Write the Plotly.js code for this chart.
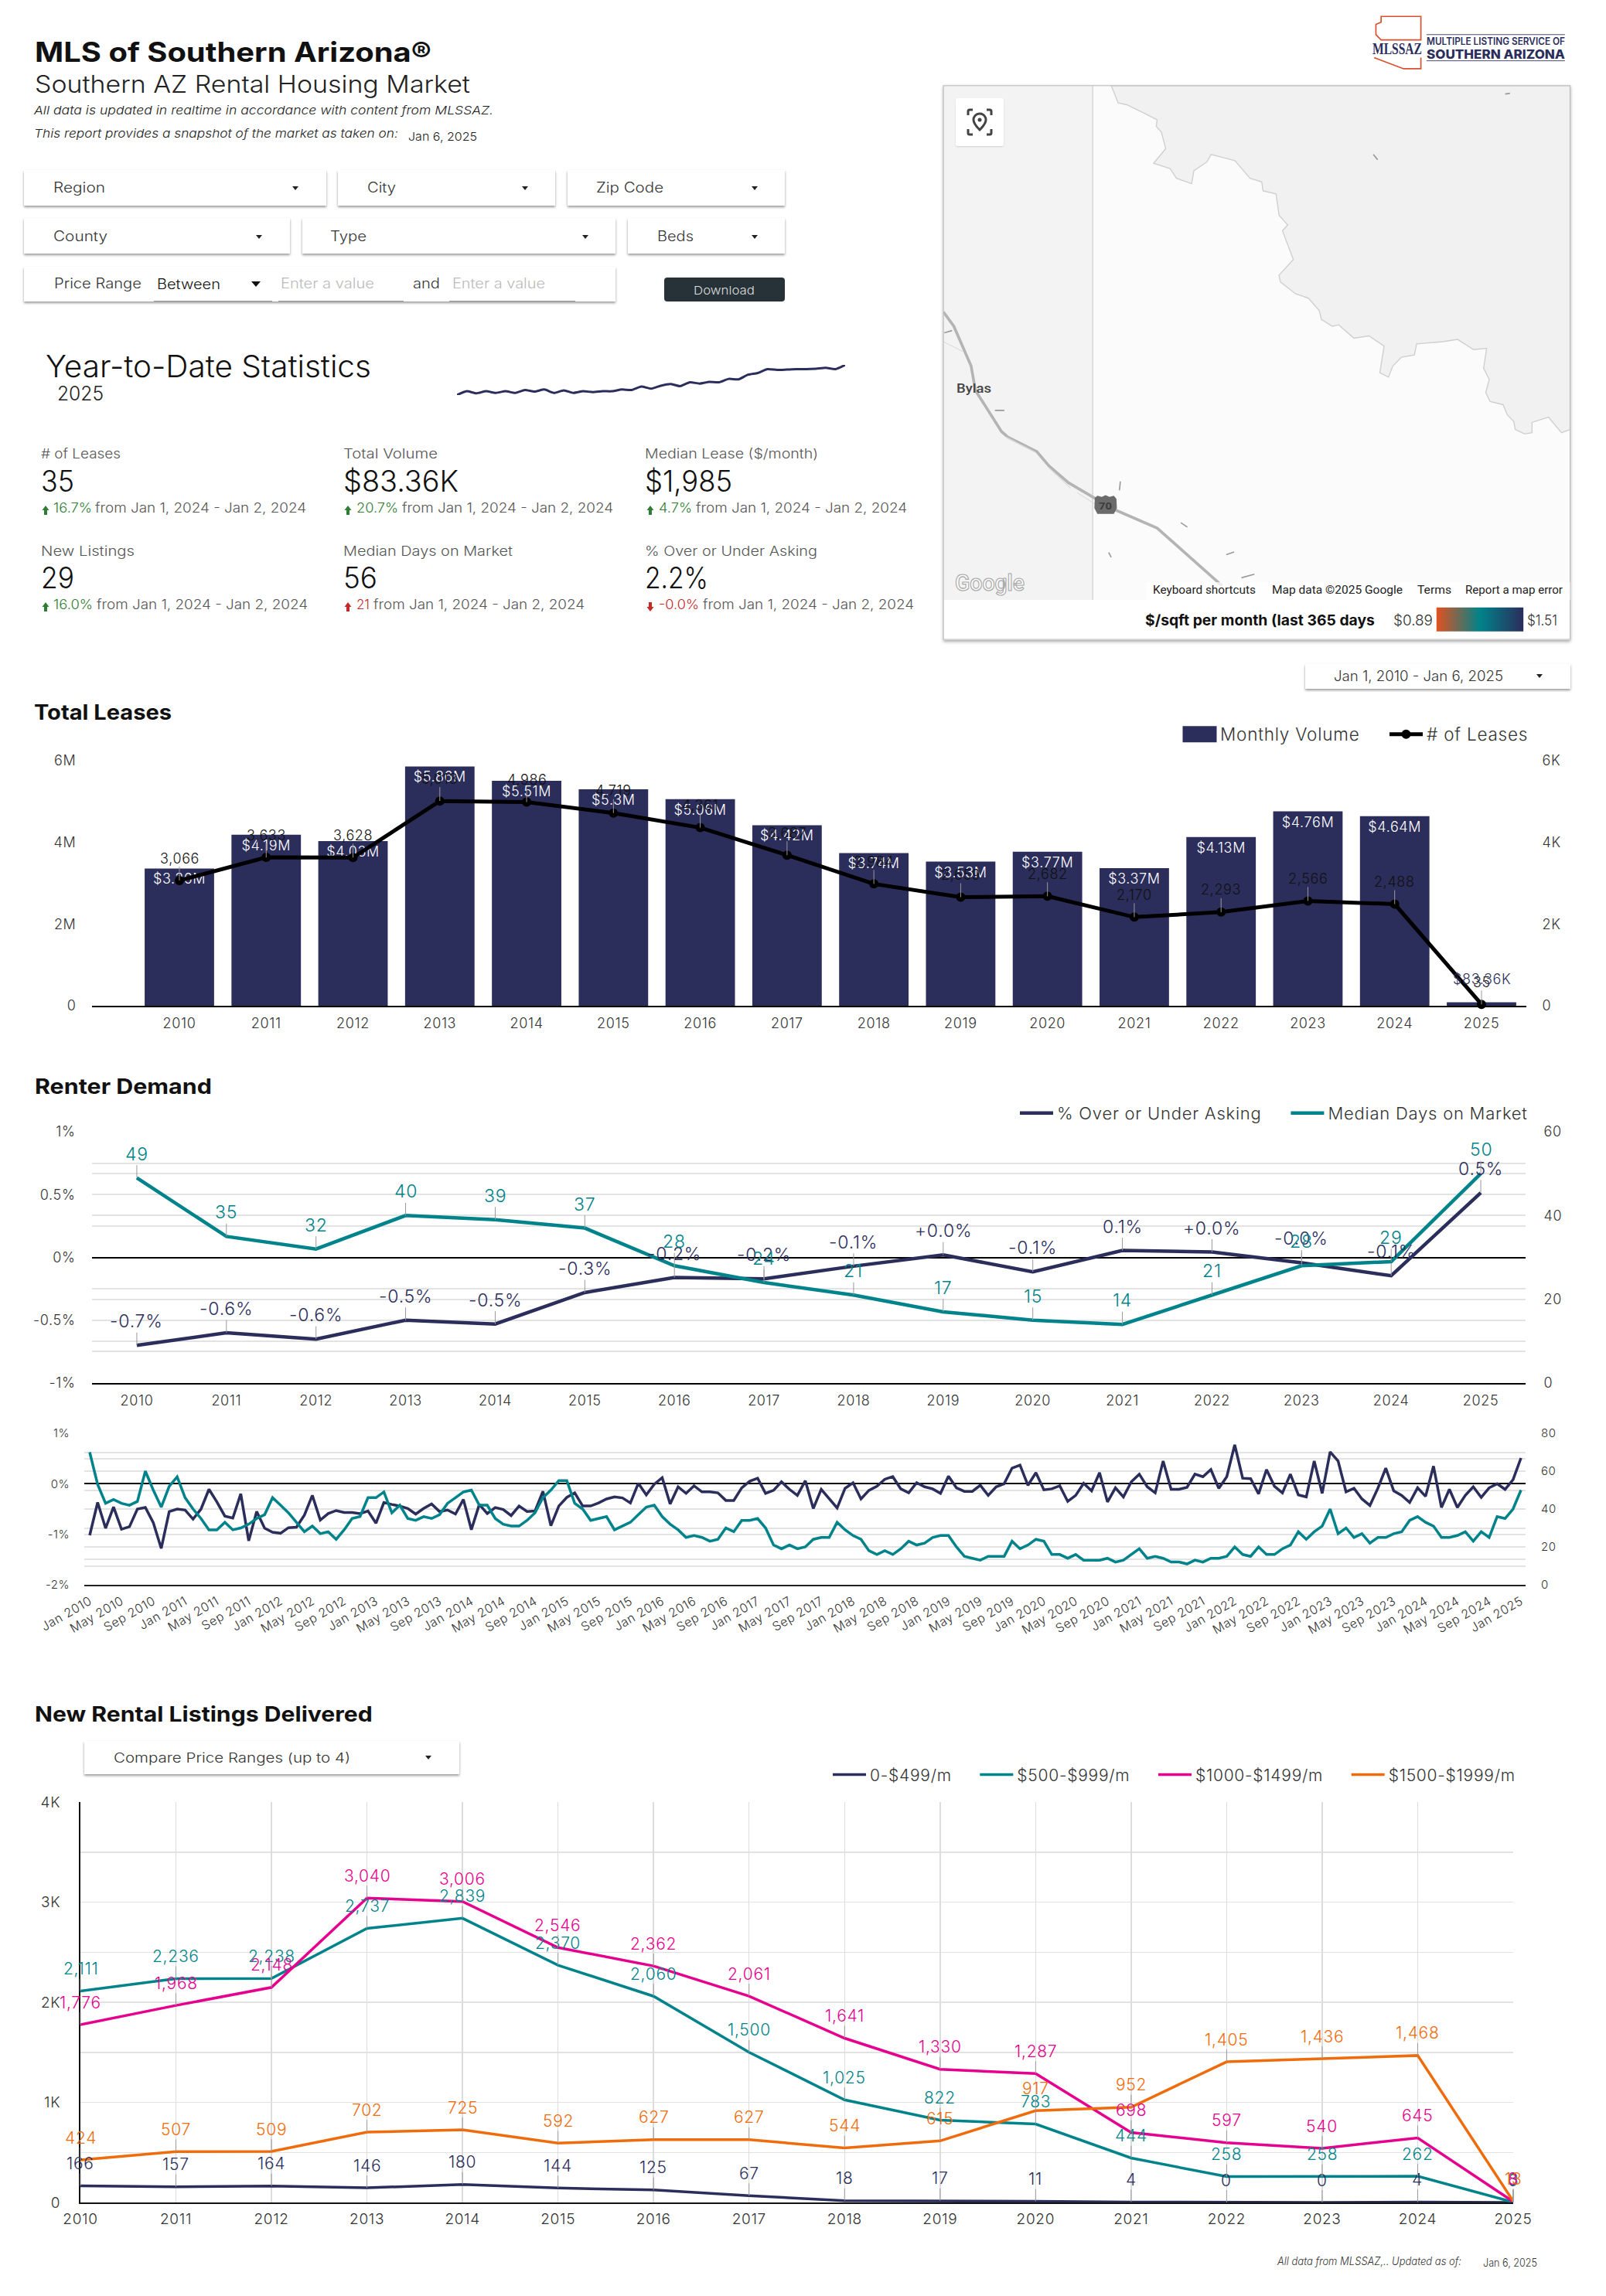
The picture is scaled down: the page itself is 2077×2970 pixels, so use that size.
<!DOCTYPE html>
<html><head><meta charset="utf-8">
<script src="https://cdn.plot.ly/plotly-3.0.1.min.js"></script>
<style>
html,body{margin:0;padding:0;background:#fff;}
#page{position:relative;width:2077px;height:2970px;overflow:hidden;font-family:Inter,sans-serif;background:#fff;}
.t{position:absolute;white-space:nowrap;transform-origin:left center;line-height:1;}
.b{position:absolute;background:#fff;box-shadow:0 2px 3px rgba(0,0,0,.4);}
.c{position:absolute;width:0;height:0;border-left:4px solid transparent;border-right:4px solid transparent;border-top:5px solid #222;}
.u{position:absolute;height:1px;background:#999;}
.p{position:absolute;}
svg text{letter-spacing:.035em;}
</style></head><body><div id="page"></div>
<script>
/* ---------- data ---------- */
const years=['2010','2011','2012','2013','2014','2015','2016','2017','2018','2019','2020','2021','2022','2023','2024','2025'];
const monthlyVolume=[3.36e6,4.19e6,4.03e6,5.86e6,5.51e6,5.3e6,5.06e6,4.42e6,3.74e6,3.53e6,3.77e6,3.37e6,4.13e6,4.76e6,4.64e6,83360];
const volumeLabels=['$3.36M','$4.19M','$4.03M','$5.86M','$5.51M','$5.3M','$5.06M','$4.42M','$3.74M','$3.53M','$3.77M','$3.37M','$4.13M','$4.76M','$4.64M',''];
const leaseCounts=[3066,3633,3628,5013,4986,4719,4361,3687,2984,2659,2682,2170,2293,2566,2488,35];
const overAsking=[-0.70,-0.60,-0.65,-0.50,-0.53,-0.28,-0.16,-0.17,-0.07,0.02,-0.115,0.055,0.043,-0.043,-0.146,0.515];
const overLabels=['-0.7%','-0.6%','-0.6%','-0.5%','-0.5%','-0.3%','-0.2%','-0.2%','-0.1%','+0.0%','-0.1%','0.1%','+0.0%','-0.0%','-0.1%','0.5%'];
const daysOnMarket=[49,35,32,40,39,37,28,24,21,17,15,14,21,28,29,50];
const monthlyOver=[-1.02,-.37,-.88,-.46,-.9,-.85,-.5,-.47,-.77,-1.28,-.55,-.5,-.52,-.7,-.5,-.11,-.36,-.64,-.68,-.2,-1.13,-.55,-.88,-.96,-.98,-.87,-.86,-.62,-.23,-.72,-.59,-.53,-.57,-.57,-.59,-.54,-.78,-.37,-.41,-.44,-.49,-.6,-.49,-.4,-.55,-.52,-.6,-.31,-.91,-.41,-.59,-.47,-.51,-.63,-.44,-.55,-.54,-.15,-.83,-.44,-.27,-.18,-.44,-.44,-.38,-.3,-.26,-.28,-.38,.01,-.22,-.01,.12,-.4,-.06,-.19,-.04,-.16,-.16,-.18,-.33,-.33,-.08,.05,.11,-.19,-.13,.04,-.11,-.23,.06,-.49,-.11,-.3,-.48,-.09,.02,-.3,-.13,-.05,.09,.14,-.1,-.18,.02,-.06,-.1,-.19,.15,-.08,-.15,-.15,-.03,-.23,-.06,0,.31,.37,-.03,.22,-.12,-.1,-.04,-.35,-.23,.01,-.14,.22,-.36,-.08,-.26,.04,.19,-.06,-.18,.45,-.11,-.11,-.07,.19,.14,.28,-.09,.14,.77,.11,.1,-.2,.28,-.05,-.18,.19,-.22,-.26,.45,-.19,.63,.45,-.16,-.09,-.3,-.43,-.09,.31,-.14,-.23,-.37,-.08,-.25,.35,-.47,-.11,-.47,-.23,-.06,-.27,-.08,0,-.11,.08,.51];
const monthlyDays=[70,53,43,45,43,42,44,60,50,41,52,57,46,40,35,29,29,33,29,30,32,35,37,46,42,38,33,28,31,27,28,24,29,35,36,46,46,49,38,42,35,34,36,35,37,43,46,49,50,42,42,35,32,31,31,34,38,46,50,55,55,43,40,34,35,36,29,31,33,37,41,42,36,32,29,25,26,25,23,24,30,28,34,34,35,30,21,19,21,19,20,24,25,25,33,29,26,24,18,16,18,16,19,23,21,22,25,26,26,20,15,14,13,15,15,15,23,19,21,24,23,16,16,14,16,13,13,13,14,12,13,16,19,14,15,14,12,12,11,13,12,14,14,15,20,16,15,20,16,16,19,21,28,24,28,31,40,27,30,25,27,22,25,25,27,28,34,36,33,31,25,25,26,28,23,28,25,36,35,40,50];
const monthNames=['Jan','Feb','Mar','Apr','May','Jun','Jul','Aug','Sep','Oct','Nov','Dec'];
const months=monthlyOver.map((_,i)=>monthNames[i%12]+' '+(2010+Math.floor(i/12)));
const listingYears=[2010,2011,2012,2013,2014,2015,2016,2017,2018,2019,2020,2021,2022,2023,2024,2025];
const listings0to499=[166,157,164,146,180,144,125,67,18,17,11,4,0,0,4,0];
const listings500to999=[2111,2236,2238,2737,2839,2370,2060,1500,1025,822,783,444,258,258,262,3];
const listings1000to1499=[1776,1968,2148,3040,3006,2546,2362,2061,1641,1330,1287,698,597,540,645,8];
const listings1500to1999=[424,507,509,702,725,592,627,627,544,615,917,952,1405,1436,1468,13];
const sparkValues=[0,9,4,9,5,9,5,12,8,13,5,11,5,9,7,9,9,13,12,20,15,22,26,21,30,27,31,30,38,37,48,52,61,59,60,61,61,62,64,61,71];

const NAVY='#2b2d5b',TEAL='#00838a',PINK='#e6008e',ORANGE='#ef6c0c',GRID='#e3e3e3',FONT='Inter, sans-serif',TXT='#333';
const page=document.getElementById('page');

/* ---------- static page text and controls ---------- */
const fits=[];
function T(s,x0,x1,cy,size,o){o=o||{};const e=document.createElement('div');e.className='t';e.textContent=s;
 e.style.cssText=`left:${x0}px;top:${cy-size/2}px;font-size:${size}px;color:${o.color||'#333'};font-weight:${o.weight||400};font-style:${o.italic?'italic':'normal'};font-family:${o.family||FONT};${o.css||''}`;
 (o.parent||page).appendChild(e);fits.push([e,x1-x0]);return e;}
function B(x0,y0,x1,y1,bg){const e=document.createElement('div');e.className='b';e.style.cssText=`left:${x0}px;top:${y0}px;width:${x1-x0}px;height:${y1-y0}px;`+(bg?`background:${bg};`:'');page.appendChild(e);return e;}
function C(x,cy,big){const e=document.createElement('div');e.className='c';e.style.left=(x-4)+'px';e.style.top=(cy-2)+'px';if(big){e.style.borderLeft=e.style.borderRight='6px solid transparent';e.style.borderTop='7px solid #111';e.style.left=(x-6)+'px';}page.appendChild(e);}
function U(x0,x1,y){const e=document.createElement('div');e.className='u';e.style.cssText=`left:${x0}px;width:${x1-x0}px;top:${y}px;`;page.appendChild(e);}

T('MLS of Southern Arizona®',45,558,67,35,{weight:700,color:'#111'});
T('Southern AZ Rental Housing Market',45,608,108,31,{color:'#222',weight:300});
T('All data is updated in realtime in accordance with content from MLSSAZ.',44,638,142,15,{italic:true,color:'#222',weight:300});
T('This report provides a snapshot of the market as taken on:',44,515,172,15,{italic:true,color:'#222',weight:300});
T('Jan 6, 2025',528,617,176,15,{color:'#222',weight:300});

[[31,422,220,266],[437,718,220,266],[734,1015,220,266],[31,375,282,328],[391,796,282,328],[812,1015,282,328],[31,796,345,390]].forEach(r=>B(r[0],r[2],r[1],r[3]));
[['Region',69,136,243,382],['City',475,512,243,679],['Zip Code',771,858,243,976],['County',69,139,306,335],['Type',427,474,306,757],['Beds',850,897,306,976]].forEach(d=>{T(d[0],d[1],d[2],d[3],18,{weight:300});C(d[4],d[3]);});
T('Price Range',70,183,367,18,{weight:300});T('Between',203,285,368,18,{color:'#111',weight:300});C(331,366,true);
T('Enter a value',363,484,367,18,{color:'#bbb',weight:300});T('and',534,569,367,18,{weight:300});T('Enter a value',585,705,367,18,{color:'#bbb',weight:300});
U(199,352,389);U(360,522,389);U(581,744,389);
const dl=B(859,359,1015,390,'#263238');dl.style.borderRadius='4px';dl.style.boxShadow='none';
T('Download',897,976,375.5,15,{color:'#ddd',weight:300});

T('Year-to-Date Statistics',59,480,473,39,{weight:300,color:'#111'});
T('2025',74,134,509,25,{color:'#222',weight:300});

const GREEN='#2e7d32',RED='#c62828';
function arrow(x,cy,col,down){const e=document.createElement('div');e.className='p';
 e.innerHTML=`<svg width="10" height="14" viewBox="0 0 10 14"><path d="${down?'M3 1H7V7H9.5L5 13L.5 7H3Z':'M5 1L9.5 7H7V13H3V7H.5Z'}" fill="${col}"/></svg>`;
 e.style.left=(x-5)+'px';e.style.top=(cy-6)+'px';page.appendChild(e);}
const RANGE='from Jan 1, 2024 - Jan 2, 2024';
[
 ['# of Leases',53,156,587,'35',96,622,59,'16.7%',69,119,123,396,657,GREEN,false],
 ['Total Volume',444,566,587,'$83.36K',593,622,450,'20.7%',461,515,520,793,657,GREEN,false],
 ['Median Lease ($/month)',834,1058,587,'$1,985',947,622,841,'4.7%',852,895,900,1173,657,GREEN,false],
 ['New Listings',53,174,713,'29',96,747,59,'16.0%',69,120,125,398,782,GREEN,false],
 ['Median Days on Market',444,663,713,'56',488,747,450,'21',461,478,483,756,782,RED,false],
 ['% Over or Under Asking',834,1057,713,'2.2%',916,747,841,'-0.0%',852,904,909,1182,782,RED,true]
].forEach(k=>{
 T(k[0],k[1],k[2],k[3],17,{color:'#555',weight:300});
 T(k[4],k[1],k[5],k[6],38,{color:'#111',weight:300});
 arrow(k[7],k[13],k[14],k[15]);
 T(k[8],k[9],k[10],k[13],17,{color:k[14],weight:300});
 T(RANGE,k[11],k[12],k[13],17,{color:'#555',weight:300});
});

/* ---------- map panel and logo (base map, not data) ---------- */
const ov=document.createElement('div');ov.className='p';ov.style.cssText='left:1200px;top:0;width:877px;height:900px;';
ov.innerHTML=`<svg width="877" height="900" viewBox="0 0 1568 1568" preserveAspectRatio="none" style="position:absolute;left:0;top:0">
<defs><clipPath id="mc"><rect x="36" y="193" width="1449" height="1159"/></clipPath></defs>
<rect x="36" y="193" width="1449" height="1248" fill="#fff"/>
<g clip-path="url(#mc)">
<rect x="36" y="193" width="1449" height="1159" fill="#fbfbfb"/>
<rect x="36" y="193" width="345" height="1159" fill="#f3f3f3"/>
<path d="M424,193 440,232 460,236 500,255 530,270 528,285 540,298 550,335 522,368 560,380 575,402 610,414 615,385 645,365 655,348 690,357 710,362 745,402 772,410 775,430 805,437 812,485 832,507 820,520 845,585 812,620 815,635 850,662 880,672 905,700 910,720 935,735 950,732 985,762 1020,757 1055,780 1045,840 1065,850 1075,825 1095,805 1125,800 1130,775 1190,770 1225,765 1262,788 1292,785 1285,830 1298,855 1290,885 1300,905 1330,912 1340,935 1355,950 1358,968 1380,978 1397,975 1397,952 1435,940 1465,975 1485,968 1485,193Z" fill="#f1f1f1" stroke="#cfcfcf" stroke-width="2.5"/>
<line x1="381" y1="193" x2="381" y2="1352" stroke="#d5d5d5" stroke-width="2.5"/>
<path d="M36,703 60,735 100,825 110,880 170,972 185,985 252,1018 280,1050 325,1088 385,1122 435,1150 530,1190 680,1320" fill="none" stroke="#b4b4b4" stroke-width="6.5"/>
<path d="M36,770 80,792M180,985 250,1020M280,1055 330,1100M345,1110 385,1135" fill="none" stroke="#dcdcdc" stroke-width="2"/>
<path d="M38,750 56,745M155,925 177,925M445,1085 443,1105M585,1178 600,1188M690,1250 708,1244M725,1302 755,1294M1335,212 1346,210M1030,348 1040,360M418,1245 424,1256" fill="none" stroke="#9a9a9a" stroke-width="3"/>
<path d="M386,1122 392,1117 402,1120 411,1116 420,1120 430,1117 436,1124 437,1145 430,1158 392,1158 385,1145Z" fill="#6b6b6b"/>
</g>
<rect x="36" y="193" width="1449" height="1248" fill="none" stroke="#bdbdbd" stroke-width="2"/>
<rect x="505" y="1312" width="980" height="40" fill="#fff" opacity=".75"/>
<defs><linearGradient id="gr" x1="0" x2="1" y1="0" y2="0"><stop offset="0" stop-color="#e2511f"/><stop offset=".5" stop-color="#00838a"/><stop offset="1" stop-color="#2b2d5b"/></linearGradient></defs>
<rect x="1176" y="1369" width="201" height="54" fill="url(#gr)"/>
<path d="M1048,37H1140V90H1048L1036,78V55L1048,50Z" fill="none" stroke="#d9502e" stroke-width="3"/>
<path d="M1032,130 1100,155H1140V130" fill="none" stroke="#d9502e" stroke-width="3"/>
<path d="M1153,78H1473M1153,137H1473" stroke="#2b2d5b" stroke-width="1.5"/>
</svg>`;
page.appendChild(ov);
const mapShadow=document.createElement('div');mapShadow.className='p';mapShadow.style.cssText='left:1220px;top:110px;width:811px;height:718px;box-shadow:0 2px 4px rgba(0,0,0,.35);z-index:0;';
page.insertBefore(mapShadow,ov);
const loc=document.createElement('div');loc.className='p';loc.style.cssText='left:1236px;top:127px;width:62px;height:62px;background:#fff;border-radius:2px;box-shadow:0 1px 2px rgba(0,0,0,.15);';
loc.innerHTML=`<svg width="62" height="62" viewBox="0 0 62 62"><path d="M16 22V17Q16 15 18 15H22M40 15H44Q46 15 46 17V22M46 40V45Q46 47 44 47H40M22 47H18Q16 47 16 45V40" fill="none" stroke="#444" stroke-width="3"/><path d="M31 20C26 20 23 24 23 28C23 33 31 41 31 41C31 41 39 33 39 28C39 24 36 20 31 20Z" fill="none" stroke="#444" stroke-width="3"/><circle cx="31" cy="28" r="2.5" fill="#444"/></svg>`;
page.appendChild(loc);
T('Bylas',1237,1282,503,16,{color:'#444',family:'Roboto',weight:500});
T('70',1421,1438,654,13,{color:'#3c3c3c',family:'Roboto',weight:700});
T('Google',1235,1325,754,30,{color:'#fff',family:'Roboto',weight:500,css:'-webkit-text-stroke:1.2px #a8a8a8;'});
T('Keyboard shortcuts',1491,1624,763,14,{color:'#222',family:'Roboto'});
T('Map data ©2025 Google',1645,1814,763,14,{color:'#222',family:'Roboto'});
T('Terms',1833,1877,763,14,{color:'#222',family:'Roboto'});
T('Report a map error',1895,2021,763,14,{color:'#222',family:'Roboto'});
T('$/sqft per month (last 365 days',1481,1778,802,19,{weight:700,color:'#111'});
T('$0.89',1802,1853,802,19,{color:'#333',weight:300});
T('$1.51',1975,2014,802,19,{color:'#333',weight:300});
B(1688,859,2031,891);T('Jan 1, 2010 - Jan 6, 2025',1725,1944,875,18,{color:'#333',weight:300});C(1991,874);
T('MLSSAZ',1775,1839,63,22,{weight:700,color:NAVY,family:'Liberation Sans Narrow'});
T('MULTIPLE LISTING SERVICE OF',1845,2024,54,12.5,{weight:600,color:NAVY});
T('SOUTHERN ARIZONA',1845,2024,69.5,16,{weight:800,color:NAVY});

T('Total Leases',44,222,921,27,{weight:700,color:'#111'});
T('Renter Demand',45,274,1405,27,{weight:700,color:'#111'});
T('New Rental Listings Delivered',45,482,2217,27,{weight:700,color:'#111'});
B(109,2252,594,2295);T('Compare Price Ranges (up to 4)',147,453,2274,17,{color:'#333',weight:300});C(554,2273);
T('All data from MLSSAZ,.. Updated as of:',1652,1890,2925,14,{italic:true,color:'#333',weight:300});
T('Jan 6, 2025',1918,1988,2927,14,{color:'#333',weight:300});

function fitAll(){fits.forEach(([e,w])=>{const m=e.getBoundingClientRect().width;e.style.transform='scaleX('+(w/m).toFixed(3)+')';});}
fitAll();

/* ---------- plotly helpers ---------- */
function frame(id,x0,y0,x1,y1,topPad,botPad){const d=document.createElement('div');d.id=id;d.className='p';
 d.style.cssText=`left:0;top:${y0-topPad}px;width:2077px;height:${y1-y0+topPad+botPad}px;`;page.appendChild(d);
 return {d,margin:{l:x0,r:2077-x1,t:topPad,b:botPad,pad:0,autoexpand:false},w:2077,h:y1-y0+topPad+botPad,y0,y1,pw:x1-x0};}
function notes(xs,ys,txt,xref,yref,color,ay,size){return xs.map((x,i)=>({x,y:ys[i],xref,yref,text:txt[i],showarrow:true,arrowhead:0,arrowwidth:1,arrowcolor:'#9a9a9a',standoff:0,ax:0,ay,borderpad:0,font:{family:FONT,size,color,weight:300}}));}
const fmt=v=>v.toLocaleString('en-US');
const tickFont=s=>({family:FONT,size:s,color:TXT,weight:300});
const blank='rgba(0,0,0,0)';
const cfg={staticPlot:true,displayModeBar:false};
const gap=n=>'\u00A0'.repeat(n);
function legendAt(f,cy,size){return {orientation:'h',x:1+8/f.pw,xanchor:'right',y:(f.y1-cy)/(f.y1-f.y0),yanchor:'middle',font:{family:FONT,size,color:TXT,weight:300},itemwidth:43,bgcolor:blank,traceorder:'normal'};}

/* sparkline */
(function(){const f=frame('spark',591,471.5,1093,510,3,3);
Plotly.newPlot(f.d,[{y:sparkValues,mode:'lines',line:{color:NAVY,width:3,shape:'spline',smoothing:.6},cliponaxis:false}],
{width:f.w,height:f.h,margin:f.margin,showlegend:false,paper_bgcolor:blank,plot_bgcolor:blank,xaxis:{visible:false,range:[0,sparkValues.length-1]},yaxis:{visible:false,range:[0,71]}},cfg);})();

/* total leases */
(function(){const f=frame('leases',119,984,1974,1301.3,50,45);
const xn=years.map(Number);
const ann=notes(xn,leaseCounts,leaseCounts.map(fmt),'x','y2','#111',-29,18);
ann.push({x:2025,y:monthlyVolume[15],xref:'x',yref:'y',text:'$83.36K',showarrow:false,yshift:30,font:{family:FONT,size:18,color:NAVY,weight:300}});
Plotly.newPlot(f.d,[
{type:'bar',name:'Monthly Volume'+gap(4),x:xn,y:monthlyVolume,width:.8,marker:{color:NAVY},text:volumeLabels,textposition:'inside',insidetextanchor:'end',textangle:0,constraintext:'none',textfont:{family:FONT,size:18,color:'#fff',weight:300},hoverinfo:'skip',cliponaxis:false},
{type:'scatter',name:'# of Leases',x:xn,y:leaseCounts,yaxis:'y2',mode:'lines+markers',line:{color:'#000',width:5},marker:{color:'#000',size:12},cliponaxis:false}],
{width:f.w,height:f.h,margin:f.margin,paper_bgcolor:blank,plot_bgcolor:blank,barmode:'overlay',legend:legendAt(f,950,22.5),annotations:ann,
xaxis:{range:[2010-(232-119)/112.27,2025+(1974-1916)/112.27],tickmode:'array',tickvals:xn,ticktext:years,ticks:'outside',ticklen:5,tickcolor:blank,tickfont:tickFont(18),showgrid:false,zeroline:false,showline:true,linecolor:'#000',linewidth:2},
yaxis:{range:[0,6e6],tickmode:'array',tickvals:[0,2e6,4e6,6e6],ticktext:['0','2M','4M','6M'],ticks:'outside',ticklen:16,tickcolor:blank,tickfont:tickFont(18),showgrid:false,zeroline:false},
yaxis2:{overlaying:'y',side:'right',range:[0,6000],tickmode:'array',tickvals:[0,2000,4000,6000],ticktext:['0','2K','4K','6K'],ticks:'outside',ticklen:16,tickcolor:blank,tickfont:tickFont(18),showgrid:false,zeroline:false}},cfg).then(()=>{
 document.querySelectorAll('#leases .legend path').forEach(p=>{if((p.getAttribute('d')||'').startsWith('M6,6H-6'))p.setAttribute('d','M22,10.5H-22V-10.5H22Z');});
});
})();

/* renter demand yearly */
(function(){const f=frame('renterY',119,1464,1973,1788.7,45,45);
const idx=years.map((_,i)=>i);
const ann=notes(idx,overAsking,overLabels,'x','y',NAVY,-31,23).concat(notes(idx,daysOnMarket,daysOnMarket.map(String),'x','y2',TEAL,-31,23));
Plotly.newPlot(f.d,[
{name:'% Over or Under Asking'+gap(4),x:years,y:overAsking,mode:'lines',line:{color:NAVY,width:4.5},cliponaxis:false},
{name:'Median Days on Market',x:years,y:daysOnMarket,yaxis:'y2',mode:'lines',line:{color:TEAL,width:4.5},cliponaxis:false}],
{width:f.w,height:f.h,margin:f.margin,paper_bgcolor:blank,plot_bgcolor:blank,legend:legendAt(f,1440,22),annotations:ann,
xaxis:{type:'category',range:[-.5,15.5],ticks:'outside',ticklen:5,tickcolor:blank,tickfont:tickFont(18),showgrid:false,showline:true,linecolor:'#000',linewidth:2,zeroline:false},
yaxis:{range:[-1,1],tickmode:'array',tickvals:[-1,-.5,0,.5,1],ticktext:['-1%','-0.5%','0%','0.5%','1%'],minor:{tickvals:[-.75,-.25,.25,.75],showgrid:true,gridcolor:GRID,gridwidth:2,ticks:''},ticks:'outside',ticklen:17,tickcolor:blank,tickfont:tickFont(18),showgrid:true,gridcolor:GRID,gridwidth:2,zeroline:true,zerolinecolor:'#000',zerolinewidth:2},
yaxis2:{overlaying:'y',side:'right',range:[0,60],tickmode:'array',tickvals:[0,20,40,60],minor:{tickvals:[10,50],showgrid:true,gridcolor:GRID,gridwidth:2,ticks:''},ticks:'outside',ticklen:19,tickcolor:blank,tickfont:tickFont(18),showgrid:true,gridcolor:GRID,gridwidth:2,zeroline:false}},cfg);
})();

/* renter demand monthly */
(function(){const f=frame('renterM',109,1854,1973,2050,25,75);
Plotly.newPlot(f.d,[
{name:'% Over or Under Asking',x:months,y:monthlyOver,mode:'lines',line:{color:NAVY,width:3.5},cliponaxis:false},
{name:'Median Days on Market',x:months,y:monthlyDays,yaxis:'y2',mode:'lines',line:{color:TEAL,width:3.5},cliponaxis:false}],
{width:f.w,height:f.h,margin:f.margin,showlegend:false,paper_bgcolor:blank,plot_bgcolor:blank,
xaxis:{type:'category',range:[-.68,180.58],tickmode:'linear',tick0:0,dtick:4,tickangle:-30,ticks:'outside',ticklen:4,tickcolor:blank,tickfont:tickFont(16),showgrid:false,showline:true,linecolor:'#222',linewidth:2,zeroline:false},
yaxis:{range:[-2,1],tickmode:'array',tickvals:[-2,-1,0,1],ticktext:['-2%','-1%','0%','1%'],minor:{tickvals:[-1.5,-.5,.5],showgrid:true,gridcolor:GRID,gridwidth:2,ticks:''},ticks:'outside',ticklen:15,tickcolor:blank,tickfont:tickFont(15),showgrid:true,gridcolor:GRID,gridwidth:2,zeroline:true,zerolinecolor:'#000',zerolinewidth:2},
yaxis2:{overlaying:'y',side:'right',range:[0,80],tickmode:'array',tickvals:[0,20,40,60,80],minor:{tickvals:[10,30,50,70],showgrid:true,gridcolor:GRID,gridwidth:2,ticks:''},ticks:'outside',ticklen:16,tickcolor:blank,tickfont:tickFont(15),showgrid:true,gridcolor:GRID,gridwidth:2,zeroline:false}},cfg);
})();

/* new listings */
(function(){const f=frame('listings',103.5,2331,1957,2848.5,50,45);
const series=[['0-$499/m',listings0to499,NAVY,4],['$500-$999/m',listings500to999,TEAL,4],['$1000-$1499/m',listings1000to1499,PINK,4],['$1500-$1999/m',listings1500to1999,ORANGE,0]];
let ann=[];series.forEach(s=>{ann=ann.concat(notes(listingYears,s[1],s[1].map(fmt),'x','y',s[2],-29,21));});
Plotly.newPlot(f.d,series.map(s=>({name:s[0]+gap(s[3]),x:listingYears,y:s[1],mode:'lines',line:{color:s[2],width:3.5},cliponaxis:false})),
{width:f.w,height:f.h,margin:f.margin,paper_bgcolor:blank,plot_bgcolor:blank,legend:legendAt(f,2296,21),annotations:ann,
xaxis:{range:[2010,2025],tickmode:'array',tickvals:listingYears,ticks:'outside',ticklen:3,tickcolor:blank,tickfont:tickFont(19),showgrid:true,gridcolor:'#dcdcdc',gridwidth:1.5,zeroline:false,showline:true,linecolor:'#111',linewidth:2},
yaxis:{range:[0,4000],tickmode:'array',tickvals:[0,1000,2000,3000,4000],ticktext:['0','1K','2K','3K','4K'],minor:{tickvals:[500,1500,2500,3500],showgrid:true,gridcolor:'#e2e2e2',gridwidth:1.5,ticks:''},ticks:'outside',ticklen:20,tickcolor:blank,tickfont:tickFont(19),showgrid:true,gridcolor:'#e2e2e2',gridwidth:1.5,zeroline:false,showline:true,linecolor:'#111',linewidth:2}},cfg);
})();
</script></body></html>
